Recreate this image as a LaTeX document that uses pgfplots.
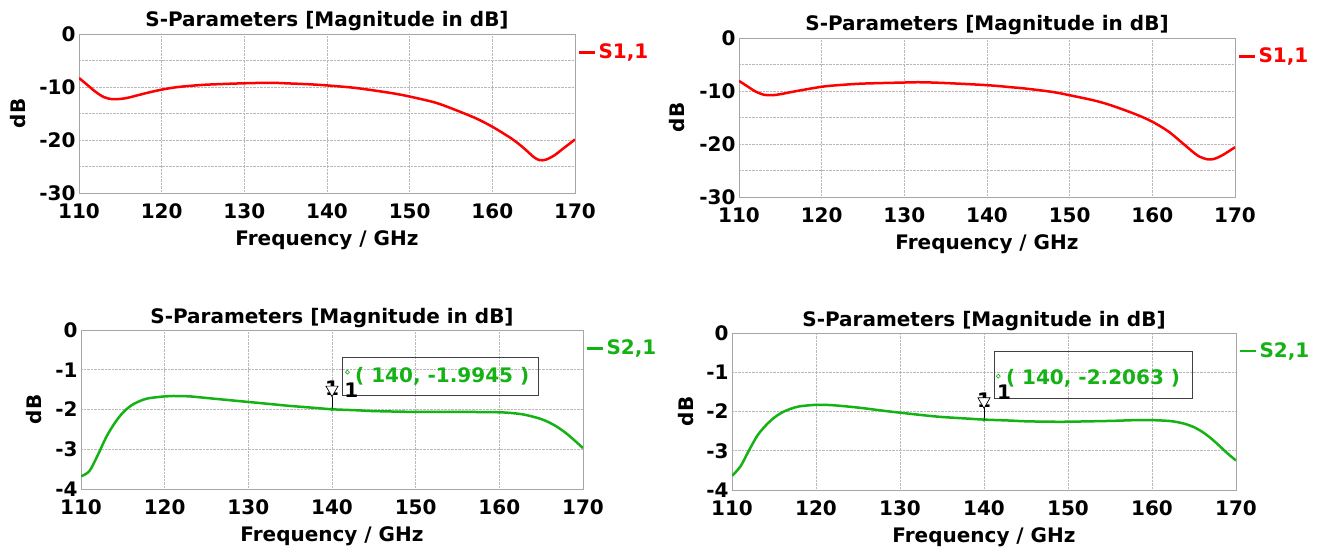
\documentclass[border=0pt]{standalone}
\usepackage{fontspec}
\setmainfont{DejaVu Sans}
\usepackage{pgfplots}
\pgfplotsset{compat=1.18}

\definecolor{sred}{RGB}{255,0,0}
\definecolor{sgreen}{RGB}{20,178,20}
\newcommand{\cstfont}{\fontsize{20}{22}\selectfont\bfseries}

\pgfplotsset{
  sparam/.style={
    scale only axis, height=159pt,
    xmin=110, xmax=170, xtick={110,120,...,170},
    grid=both,
    major grid style={densely dotted, gray!55, line width=0.9pt},
    minor grid style={densely dotted, gray!55, line width=0.9pt},
    axis line style={gray!70, line width=0.8pt},
    major tick length=0pt, minor tick length=0pt,
    /pgf/number format/assume math mode=true,
    tick label style={font=\cstfont},
    xticklabel style={yshift=-7pt},
    label style={font=\cstfont},
    xlabel style={at={(axis description cs:0.5,0)}, anchor=center, yshift=-47pt},
    title style={font=\cstfont, anchor=base, yshift=1pt},
    title={S-Parameters [Magnitude in dB]},
    xlabel={Frequency / GHz}, ylabel={dB},
    legend style={at={(1,0.885)}, anchor=west, draw=none, fill=none,
      inner sep=0pt, outer sep=0pt, font=\cstfont,
      nodes={inner xsep=2pt}, xshift=3pt},
    legend image code/.code={\draw[##1, line width=2.5pt] (0pt,0pt) -- (16pt,0pt);},
  },
  s11/.style={sparam, ymin=-30, ymax=0, ytick={-30,-20,-10,0},
    minor ytick={-25,-15,-5}},
  s21/.style={sparam, ymin=-4, ymax=0, ytick={-4,-3,-2,-1,0}},
}

\begin{document}
\begin{tikzpicture}
\path[use as bounding box] (0,0) rectangle (1319pt,550pt);

% top left
\begin{axis}[s11, at={(79pt,357pt)}, anchor=south west, width=496pt,
  ylabel style={at={(axis description cs:-0.123,0.5)}, anchor=center}]
\addplot[sred, line width=2.5pt, smooth] coordinates {
(110,-8.3)(111,-9.6)(112,-10.9)(113,-11.9)(114,-12.3)(115,-12.25)(116,-12.0)
(118,-11.2)(120,-10.5)(122,-10.0)(125,-9.6)(128,-9.4)(130,-9.3)(133,-9.2)
(135,-9.3)(138,-9.5)(140,-9.7)(143,-10.1)(145,-10.5)(148,-11.2)(150,-11.8)
(153,-12.9)(155,-14.0)(158,-15.9)(160,-17.5)(162,-19.4)(163,-20.5)(164,-21.8)
(165,-23.2)(165.7,-23.8)(166.5,-23.7)(167.5,-22.9)(168.5,-21.7)(170,-19.9)};
\addlegendentry{\textcolor{sred}{S1,1}}
\end{axis}

% top right
\begin{axis}[s11, at={(739pt,353pt)}, anchor=south west, width=496pt,
  ylabel style={at={(axis description cs:-0.125,0.5)}, anchor=center}]
\addplot[sred, line width=2.5pt, smooth] coordinates {
(110,-8.1)(111,-9.1)(112,-10.1)(113,-10.7)(114,-10.8)(115,-10.6)(117,-10.0)
(120,-9.2)(122,-8.9)(125,-8.6)(130,-8.4)(132,-8.35)(135,-8.5)(140,-8.9)
(143,-9.3)(145,-9.6)(148,-10.2)(150,-10.8)(153,-11.8)(155,-12.7)(158,-14.4)
(160,-15.8)(162,-17.7)(164,-20.3)(165.5,-22.2)(166.7,-22.9)(167.5,-22.8)
(168.5,-22.1)(170,-20.6)};
\addlegendentry{\textcolor{sred}{S1,1}}
\end{axis}

% bottom left
\begin{axis}[s21, at={(81pt,61pt)}, anchor=south west, width=502pt,
  ylabel style={at={(axis description cs:-0.094,0.5)}, anchor=center}]
\addplot[sgreen, line width=2.5pt, smooth] coordinates {
(110,-3.68)(111,-3.55)(112,-3.15)(113,-2.7)(114,-2.35)(115,-2.08)(116,-1.9)
(117,-1.79)(118,-1.72)(120,-1.67)(121,-1.66)(123,-1.67)(125,-1.71)(128,-1.77)
(130,-1.81)(133,-1.87)(135,-1.91)(138,-1.96)(140,-1.9945)(143,-2.02)(145,-2.04)
(150,-2.06)(155,-2.06)(160,-2.07)(162,-2.1)(163,-2.13)(164,-2.18)(165,-2.24)
(166,-2.33)(167,-2.45)(168,-2.6)(169,-2.78)(170,-2.97)};
\addlegendentry{\textcolor{sgreen}{S2,1}}
\addplot[black, line width=0.6pt, forget plot] coordinates {(140,-1.68)(140,-1.9945)};
\addplot[only marks, mark=triangle*, mark size=7pt,
  mark options={rotate=180, draw=black, fill=white, line width=0.7pt}, forget plot]
  coordinates {(140,-1.5)};
\addplot[only marks, mark=o, mark size=1.8pt, mark options={sgreen, line width=0.6pt}, forget plot]
  coordinates {(140,-1.9945)};
\node[font=\cstfont] at (axis cs:140,-1.46) {1};
\node[draw=black!75, line width=0.8pt, minimum width=196pt, minimum height=38pt,
  anchor=north west, inner sep=0pt] at (axis cs:141.2,-0.68) {};
\node[circle, draw=sgreen, line width=0.6pt, inner sep=1.4pt] at (axis cs:141.85,-1.06) {};
\node[font=\cstfont, text=sgreen, anchor=west, inner sep=0pt] at (axis cs:142.75,-1.17) {( 140, -1.9945 )};
\node[font=\cstfont, anchor=center] at (axis cs:142.3,-1.52) {1};
\end{axis}

% bottom right
\begin{axis}[s21, at={(732pt,60pt)}, anchor=south west, width=504pt, height=157pt,
  ylabel style={at={(axis description cs:-0.091,0.5)}, anchor=center}]
\addplot[sgreen, line width=2.5pt, smooth] coordinates {
(110,-3.64)(111,-3.4)(112,-3.0)(113,-2.62)(114,-2.36)(115,-2.16)(116,-2.02)
(117,-1.93)(118,-1.87)(120,-1.83)(122,-1.84)(125,-1.9)(128,-1.98)(130,-2.03)
(133,-2.1)(135,-2.14)(138,-2.18)(140,-2.2063)(143,-2.23)(145,-2.25)(148,-2.26)
(150,-2.26)(155,-2.24)(158,-2.22)(160,-2.22)(162,-2.24)(163,-2.27)(164,-2.32)
(165,-2.4)(166,-2.52)(167,-2.68)(168,-2.87)(169,-3.07)(170,-3.25)};
\addlegendentry{\textcolor{sgreen}{S2,1}}
\addplot[black, line width=0.6pt, forget plot] coordinates {(140,-1.92)(140,-2.2063)};
\addplot[only marks, mark=triangle*, mark size=7pt,
  mark options={rotate=180, draw=black, fill=white, line width=0.7pt}, forget plot]
  coordinates {(140,-1.74)};
\addplot[only marks, mark=o, mark size=1.8pt, mark options={sgreen, line width=0.6pt}, forget plot]
  coordinates {(140,-2.2063)};
\node[font=\cstfont] at (axis cs:140,-1.7) {1};
\node[draw=black!75, line width=0.8pt, minimum width=198pt, minimum height=47pt,
  anchor=north west, inner sep=0pt] at (axis cs:141.2,-0.46) {};
\node[circle, draw=sgreen, line width=0.6pt, inner sep=1.4pt] at (axis cs:141.7,-1.1) {};
\node[font=\cstfont, text=sgreen, anchor=west, inner sep=0pt] at (axis cs:142.6,-1.15) {( 140, -2.2063 )};
\node[font=\cstfont, anchor=center] at (axis cs:142.4,-1.5) {1};
\end{axis}
\end{tikzpicture}
\end{document}
